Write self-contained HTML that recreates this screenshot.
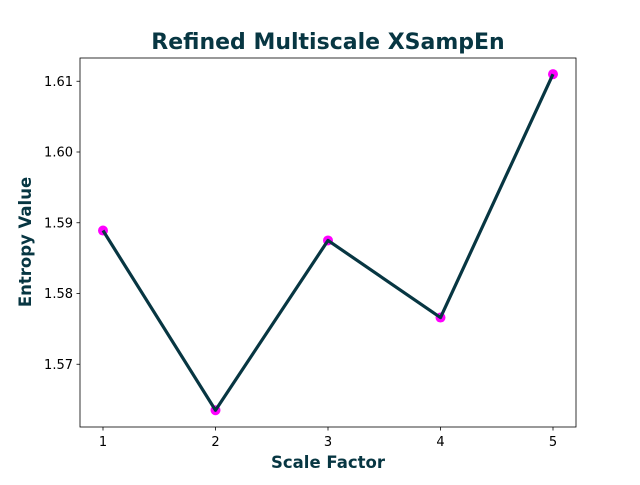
<!DOCTYPE html>
<html><head><meta charset="utf-8"><style>
body{margin:0;background:#fff;}
svg text{font-family:"DejaVu Sans","Liberation Sans",sans-serif;}
</style></head><body>
<svg id="chart" width="640" height="480" xmlns="http://www.w3.org/2000/svg"></svg>
<script>
const categories=[1,2,3,4,5];
const values=[1.5889,1.5635,1.5875,1.5766,1.6110];
const yTicks=[1.57,1.58,1.59,1.60,1.61];
const yTickLabels=["1.57","1.58","1.59","1.60","1.61"];
const L=80,R=576,T=58,B=427;
const x=v=>103+(v-1)*112.5;
const y=v=>152-(v-1.60)*7075;
const svg=document.getElementById('chart');
const NS='http://www.w3.org/2000/svg';
function mk(tag,attrs,parent){const e=document.createElementNS(NS,tag);for(const k in attrs)e.setAttribute(k,attrs[k]);(parent||svg).appendChild(e);return e;}
const frame=mk('rect',{x:L,y:T,width:R-L,height:B-T,fill:'none',stroke:'#000','stroke-width':0.8});


categories.forEach(c=>{
  const t=mk('line',{x1:x(c),x2:x(c),y1:B,y2:B+3.5,stroke:'#000','stroke-width':0.8});
  
  
  const l=mk('text',{x:x(c),y:B+19,'font-size':13,'text-anchor':'middle'});l.textContent=c;
  
  
});
yTicks.forEach((v,i)=>{
  const t=mk('line',{x1:L-3.5,x2:L,y1:y(v),y2:y(v),stroke:'#000','stroke-width':0.8});
  
  
  const l=mk('text',{x:L-7,y:y(v)+4.5,'font-size':13,'text-anchor':'end'});l.textContent=yTickLabels[i];
  
  
});
categories.forEach((c,i)=>{
  const m=mk('circle',{cx:x(c),cy:y(values[i]),r:5,fill:'#ff00ff'});
  
  
});
const pl=mk('polyline',{points:categories.map((c,i)=>x(c)+','+y(values[i])).join(' '),fill:'none',stroke:'#073642','stroke-width':3.2,'stroke-linejoin':'round'});


const ti=mk('text',{x:328,y:49,'font-size':22,'font-weight':'bold','text-anchor':'middle',fill:'#073642'});ti.textContent='Refined Multiscale XSampEn';


const xt=mk('text',{x:328,y:468,'font-size':16.5,'font-weight':'bold','text-anchor':'middle',fill:'#073642'});xt.textContent='Scale Factor';


const yt=mk('text',{x:31,y:242,'font-size':16.5,'font-weight':'bold','text-anchor':'middle',fill:'#073642',transform:'rotate(-90 31 242)'});yt.textContent='Entropy Value';


</script>
</body></html>
